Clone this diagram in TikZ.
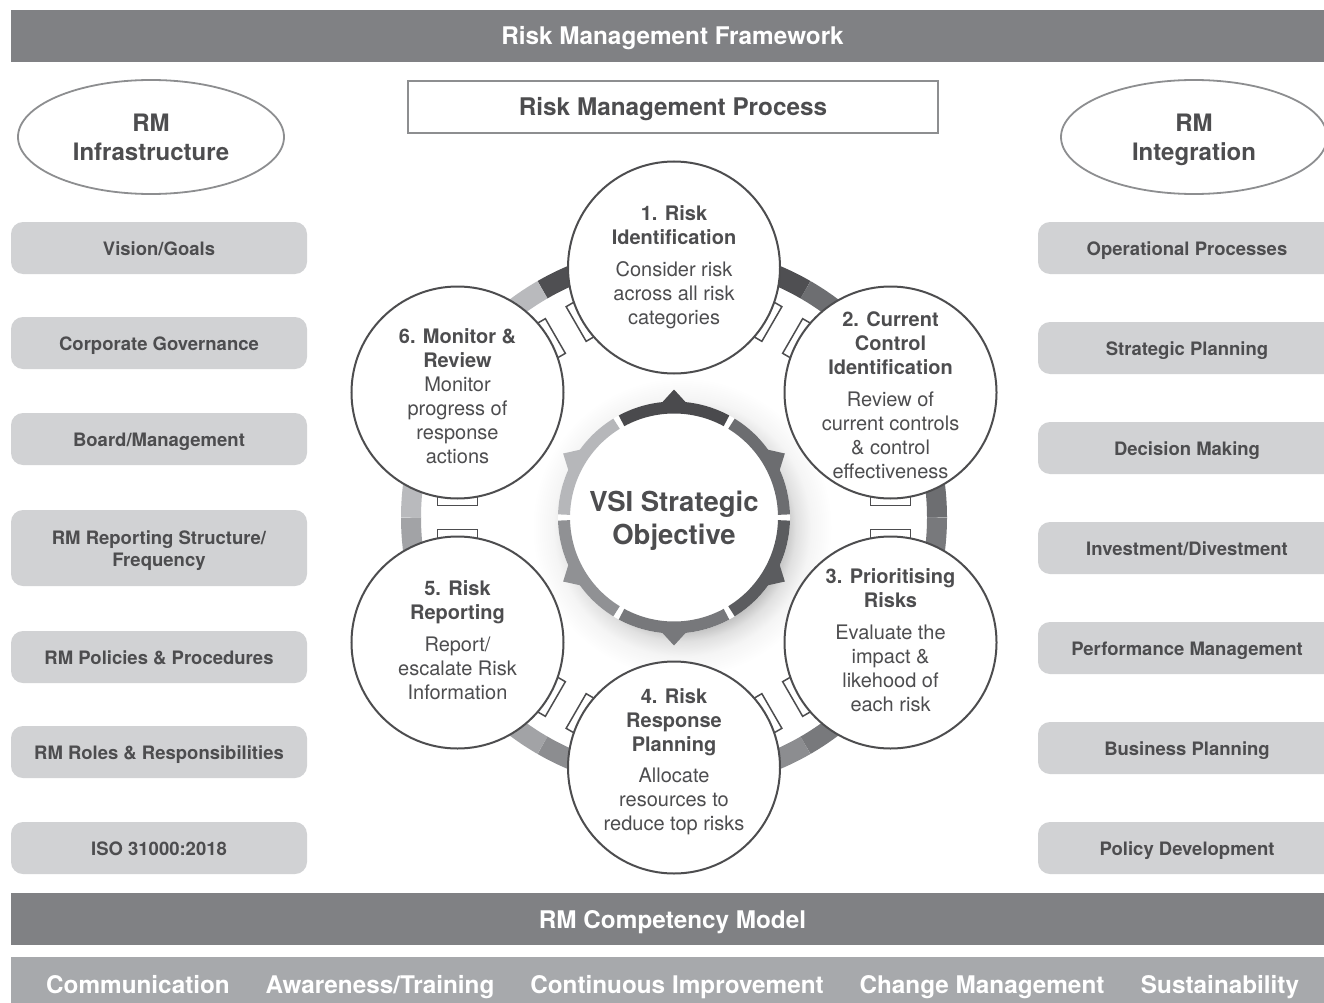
\documentclass[tikz,border=0pt]{standalone}
\usepackage{fontspec}
\setmainfont{TeX Gyre Heros}
\usetikzlibrary{shapes.geometric,calc}
\definecolor{txt}{HTML}{4D4D4F}
\definecolor{barA}{HTML}{808184}
\definecolor{barB}{HTML}{A7A9AC}
\definecolor{boxg}{HTML}{D1D2D4}
\definecolor{edgeg}{HTML}{8D8E90}
\definecolor{oA}{HTML}{4F4F52}
\definecolor{oB}{HTML}{6D6E71}
\definecolor{oC}{HTML}{78797C}
\definecolor{oD}{HTML}{8C8D90}
\definecolor{oE}{HTML}{A2A3A6}
\definecolor{oF}{HTML}{B9BABD}
\definecolor{iA}{HTML}{4A4A4D}
\definecolor{iB}{HTML}{6C6D70}
\definecolor{iC}{HTML}{5B5C5F}
\definecolor{iD}{HTML}{77787B}
\definecolor{iE}{HTML}{909194}
\definecolor{iF}{HTML}{B6B7BA}
\pgfdeclareradialshading{discshadow}{\pgfpoint{0bp}{0bp}}{color(0bp)=(black!25); color(17bp)=(black!25); color(19bp)=(black!12); color(21.5bp)=(black!4); color(25bp)=(white); color(50bp)=(white)}
\begin{document}
\begin{tikzpicture}[x=1pt,y=1pt,
  bartext/.style={text=white, font=\bfseries\fontsize{24.3}{28}\selectfont, inner sep=0pt, anchor=base},
  sidebox/.style={fill=boxg, rounded corners=12pt, text=txt, font=\bfseries\fontsize{18.5}{22}\selectfont, align=center, minimum height=52pt, inner sep=0pt, text height=15.8pt, text depth=0pt},
  lbox/.style={sidebox, minimum width=296pt},
  rbox/.style={sidebox, minimum width=298pt},
  ell/.style={ellipse, draw=edgeg, line width=1.8pt, minimum width=266pt, minimum height=114pt, text=txt, font=\bfseries\fontsize{24}{29}\selectfont, align=center, inner sep=0pt, text depth=0pt},
  proc/.style={circle, draw=txt, line width=2pt, fill=white, minimum size=212pt, inner sep=-14pt, text=txt, align=center, font=\fontsize{20}{24}\selectfont},
  tabbox/.style={draw=txt, line width=1.5pt, fill=white},
]
\useasboundingbox (0,0) rectangle (1324,-1003);
\clip (0,0) rectangle (1324,-1003);
\fill[white] (0,0) rectangle (1324,-1003);
% top bar
\fill[barA] (11,-10) rectangle (1340,-62);
\node[bartext] (fw) at (672.5,-45) {Risk Management Framework};
% process title
\node[draw=edgeg, line width=2pt, minimum width=530pt, minimum height=52pt, text=txt, font=\bfseries\fontsize{24.3}{28}\selectfont, text height=17.5pt, text depth=0pt, inner sep=0pt] (rmp) at (673,-107) {Risk Management Process};
% ellipses
\node[ell] (infra) at (151,-137) {RM\\Infrastructure};
\node[ell] (integ) at (1194,-137) {RM\\Integration};
% left boxes
\node[lbox] (l1) at (159,-248) {Vision/Goals};
\node[lbox] (l2) at (159,-343) {Corporate Governance};
\node[lbox] (l3) at (159,-439) {Board/Management};
\node[lbox, minimum height=76pt, text height=37pt] (l4) at (159,-548) {RM Reporting Structure/\\Frequency};
\node[lbox] (l5) at (159,-657) {RM Policies \& Procedures};
\node[lbox] (l6) at (159,-752) {RM Roles \& Responsibilities};
\node[lbox] (l7) at (159,-848) {ISO 31000:2018};
% right boxes
\node[rbox] (r1) at (1187,-248) {Operational Processes};
\node[rbox] (r2) at (1187,-348) {Strategic Planning};
\node[rbox] (r3) at (1187,-448) {Decision Making};
\node[rbox] (r4) at (1187,-548) {Investment/Divestment};
\node[rbox] (r5) at (1187,-648) {Performance Management};
\node[rbox] (r6) at (1187,-748) {Business Planning};
\node[rbox] (r7) at (1187,-848) {Policy Development};
% central cycle
\begin{scope}[shift={(674,-517.5)}]
  \shade[shading=discshadow] (8,-10) circle (150);
  \foreach \a/\col in {90/oA,30/oB,-30/oC,-90/oD,-150/oE,150/oF}{
    \pgfmathsetmacro\sa{\a-30}
    \draw[line width=20pt,\col] (\sa:263) arc[start angle=\sa, delta angle=60, radius=263];
  }
  \foreach \a in {90,30,-30,-90,-150,150}{
    \foreach \d in {-120,120}{
      \pgfmathsetmacro\dir{\a+\d}
      \begin{scope}[shift={(\a:250)}, rotate=\dir]
        \draw[tabbox] (100,-20) rectangle (113,20);
      \end{scope}
    }
  }
  \node[proc] (c1) at (90:250) {\textbf{1. Risk}\\\textbf{Identification}\\[8pt]Consider risk\\across all risk\\categories};
  \node[proc, text height=172pt, text depth=0pt] (c2) at (30:250) {\textbf{2. Current}\\\textbf{Control}\\\textbf{Identification}\\[8pt]Review of\\current controls\\\& control\\effectiveness};
  \node[proc, text depth=4pt] (c3) at (-30:250) {\textbf{3. Prioritising}\\\textbf{Risks}\\[8pt]Evaluate the\\impact \&\\likehood of\\each risk};
  \node[proc, text depth=16pt] (c4) at (-90:250) {\textbf{4. Risk}\\\textbf{Response}\\\textbf{Planning}\\[7pt]Allocate\\resources to\\reduce top risks};
  \node[proc, text depth=4pt] (c5) at (-150:250) {\textbf{5. Risk}\\\textbf{Reporting}\\[8pt]Report/\\escalate Risk\\Information};
  \node[proc, text height=142pt, text depth=0pt] (c6) at (150:250) {\textbf{6. Monitor \&}\\\textbf{Review}\\Monitor\\progress of\\response\\actions};
  \node[circle, fill=white, minimum size=232pt, inner sep=0pt, text=txt, align=center, font=\bfseries\fontsize{27.5}{33}\selectfont, text depth=0pt] (obj) at (0,0) {VSI Strategic\\Objective};
  \foreach \a/\col in {90/iA,30/iB,-30/iC,-90/iD,-150/iE,150/iF}{
    \pgfmathsetmacro\sa{\a-28.5}
    \pgfmathsetmacro\ta{\a-6}
    \pgfmathsetmacro\tb{\a+6}
    \draw[line width=12pt,\col] (\sa:110) arc[start angle=\sa, delta angle=57, radius=110];
    \fill[\col] (\ta:115.5) -- (\a:128) -- (\tb:115.5) -- cycle;
  }
\end{scope}
% bottom bars
\fill[barA] (11,-893) rectangle (1340,-945);
\node[bartext] (cm) at (672.5,-928) {RM Competency Model};
\fill[barB] (11,-957) rectangle (1340,-1010);
\node[bartext] (b1) at (138,-993) {Communication};
\node[bartext] (b2) at (380,-993) {Awareness/Training};
\node[bartext] (b3) at (677,-993) {Continuous Improvement};
\node[bartext] (b4) at (982,-993) {Change Management};
\node[bartext] (b5) at (1220,-993) {Sustainability};
\end{tikzpicture}
\end{document}
